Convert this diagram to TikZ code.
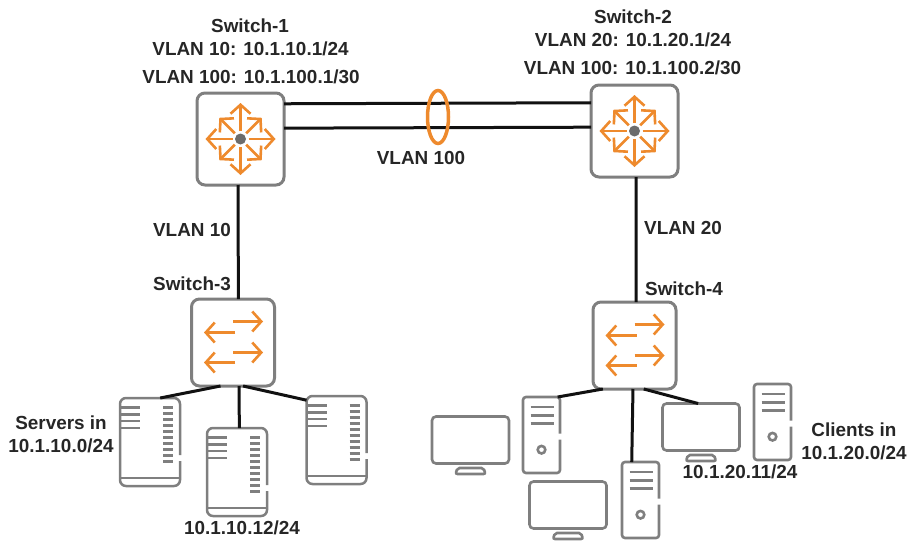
\documentclass[tikz,border=0pt]{standalone}
\usepackage{fontspec}
\setmainfont{Liberation Sans}
\usetikzlibrary{arrows.meta,shapes.geometric}
\definecolor{boxgray}{HTML}{7F7F7F}
\definecolor{iconorange}{HTML}{EE8A2D}
\definecolor{linkblack}{HTML}{111111}
\begin{document}
\begin{tikzpicture}[x=1pt,y=-1pt]

      \tikzset{
        rtbox/.style={draw=boxgray, line width=3pt, fill=white, rounded corners=8pt, inner sep=0pt, outer sep=0pt, minimum width=87pt, minimum height=92pt},
        swbox/.style={rtbox, minimum width=83pt, minimum height=87pt},
        srvbox/.style={inner sep=0pt, outer sep=0pt, minimum width=60pt, minimum height=88pt},
        twrbox/.style={inner sep=0pt, outer sep=0pt, minimum width=37pt, minimum height=76pt},
        monbox/.style={draw=boxgray, line width=2.6pt, rounded corners=4pt, inner sep=0pt, outer sep=0pt, minimum width=77pt, minimum height=47pt},
        lbl/.style={font=\fontsize{18.9}{21}\selectfont\bfseries, text=black!85, inner sep=0pt},
        link/.style={draw=linkblack, line width=3pt},
        iconarrow/.style={draw=iconorange, line width=2.6pt, -{Straight Barb[length=9pt,width=20pt,line width=2.6pt]}},
        pics/routericon/.style={code={
          \foreach \a/\r in {0/35,45/30,90/36,135/30,180/35,225/30,270/36,315/30}
            \draw[iconarrow] (\a:8) -- (\a:\r);
          \fill[boxgray!85!black] (0,0) circle (5.5);
        }},
        pics/switchicon/.style={code={
          \draw[iconarrow] (0,-21) -- (30,-21);
          \draw[iconarrow] (2,-10) -- (-29,-10);
          \draw[iconarrow] (0,10) -- (30,10);
          \draw[iconarrow] (2,20) -- (-29,20);
        }},
        pics/servericon/.style={code={
          \begin{scope}[draw=boxgray, line width=2.5pt]
          \draw[rounded corners=6pt] (30,13) -- (30,-44) -- (-30,-44) -- (-30,44) -- (30,44) -- (30,19);
          \draw (-30,36) -- (30,36);
          \foreach \y in {-34.7,-27.7,-21,-14}
            \draw (-30,\y) -- (-10,\y);
          \foreach \i in {0,...,9}
            \draw (13,-34.7+6*\i) -- (23,-34.7+6*\i);
          \end{scope}
        }},
        pics/towericon/.style={code={
          \begin{scope}[draw=boxgray, line width=2.6pt]
          \draw[rounded corners=3pt] (18.5,-1.3) -- (18.5,-38) -- (-18.5,-38) -- (-18.5,38) -- (18.5,38) -- (18.5,4.7);
          \foreach \y in {-28,-19.7,-11.3}
            \draw (-11,\y) -- (12,\y);
          \draw (0,14.7) circle (3.8);
          \end{scope}
        }},
        pics/standicon/.style={code={
          \draw[boxgray, line width=2.6pt, rounded corners=2pt] (-15,34) -- (-13,28) -- (13,28) -- (15,34) -- cycle;
        }}
      }
%% Switches
	\node[rtbox] (sw1) at (240.5,139) {};
	\node[rtbox] (sw2) at (634.5,131) {};
	\node[swbox] (sw3) at (233,342.5) {};
	\node[swbox] (sw4) at (634.5,345.5) {};
	\pic at (sw1) {routericon};
	\pic at (sw2) {routericon};
	\pic at (sw3) {switchicon};
	\pic at (sw4) {switchicon};
%% Servers
	\node[srvbox] (srv1) at (150,442) {};
	\node[srvbox] (srv2) at (237,472) {};
	\node[srvbox] (srv3) at (336.5,440) {};
	\pic at (srv1) {servericon};
	\pic at (srv2) {servericon};
	\pic at (srv3) {servericon};
%% Clients
	\node[twrbox] (twr1) at (541.5,435) {};
	\node[twrbox] (twr2) at (640.5,500) {};
	\node[twrbox] (twr3) at (772.5,422) {};
	\pic at (twr1) {towericon};
	\pic at (twr2) {towericon};
	\pic at (twr3) {towericon};
	\node[monbox] (mon1) at (470.5,440) {};
	\node[monbox] (mon2) at (568,505) {};
	\node[monbox] (mon3) at (701,427) {};
	\pic at (mon1) {standicon};
	\pic at (mon2) {standicon};
	\pic at (mon3) {standicon};
%Edges
	\path (sw1.39.2) edge[link] (sw2.147.7);
	\path (sw1.14.8) edge[link] (sw2.175.4);
	\path (sw1.-93.5) edge[link] (sw3.83.8);
	\path (sw2.-88.5) edge[link] (sw4.88.4);
	\path (sw3.-106) edge[link] (srv1.77.5);
	\path (sw3.-82) edge[link] (srv2.87.4);
	\path (sw3.-77.6) edge[link] (srv3.127.8);
	\path (sw4.-126.8) edge[link] (twr1.67.8);
	\path (sw4.-92) edge[link] (twr2.103);
	\path (sw4.-78.6) edge[link] (mon3.97);
	\node[ellipse, draw=iconorange, line width=3.5pt, inner sep=0pt, minimum width=21pt, minimum height=53pt] (lag) at (438,117) {};
%Labels
	\node[lbl] (sw1name) at (250,26) {Switch-1};
	\node[lbl] (sw1vlan) at (250.5,49) {VLAN 10: 10.1.10.1/24};
	\node[lbl] (sw1up) at (251,77) {VLAN 100: 10.1.100.1/30};
	\node[lbl] (sw2name) at (633,17) {Switch-2};
	\node[lbl] (sw2vlan) at (633,40) {VLAN 20: 10.1.20.1/24};
	\node[lbl] (sw2up) at (632.5,68) {VLAN 100: 10.1.100.2/30};
	\node[lbl] (lagname) at (421,158) {VLAN 100};
	\node[lbl] (vlan10) at (192,230) {VLAN 10};
	\node[lbl] (vlan20) at (683,228) {VLAN 20};
	\node[lbl] (sw3name) at (192,284) {Switch-3};
	\node[lbl] (sw4name) at (684,289) {Switch-4};
	\node[lbl] (srvname) at (61,423) {Servers in};
	\node[lbl] (srvnet) at (61,446) {10.1.10.0/24};
	\node[lbl] (srvaddr) at (242,528) {10.1.10.12/24};
	\node[lbl] (cliname) at (854,430) {Clients in};
	\node[lbl] (clinet) at (854,453) {10.1.20.0/24};
	\node[lbl] (cliaddr) at (740,472) {10.1.20.11/24};

	\useasboundingbox (0,0) rectangle (909,540);
	\end{tikzpicture}
\end{document}
